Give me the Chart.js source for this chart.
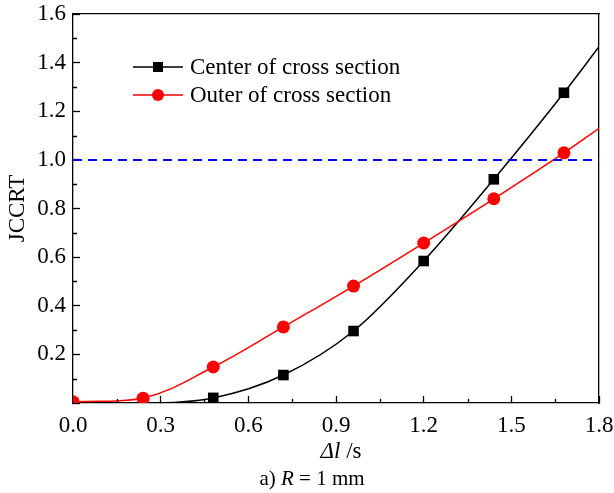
<!DOCTYPE html>
<html>
<head>
<meta charset="utf-8">
<script src="https://cdn.jsdelivr.net/npm/chart.js@4/dist/chart.umd.min.js"></script>
<style>
  html, body { margin: 0; padding: 0; background: #fff; }
  #wrap { width: 614px; height: 493px; position: relative; }
</style>
</head>
<body>
<div id="wrap"><canvas id="myChart" width="614" height="493"></canvas></div>
<script>
// data
var xValues = [0, 0.24, 0.48, 0.72, 0.96, 1.2, 1.44, 1.68, 1.8];
var centerValues = [0, 0, 0.021, 0.115, 0.296, 0.584, 0.92, 1.276, 1.465];
var outerValues = [0.005, 0.02, 0.148, 0.313, 0.481, 0.658, 0.84, 1.029, 1.13];
var markerShown = [true, true, true, true, true, true, true, true, false];
var limitX = [0, 1.8];
var limitY = [1.0, 1.0];
var xTicks = [0, 0.3, 0.6, 0.9, 1.2, 1.5, 1.8];
var yTicks = [0, 0.2, 0.4, 0.6, 0.8, 1.0, 1.2, 1.4, 1.6];
var legendLabels = ["Center of cross section", "Outer of cross section"];

var FONT = "'Liberation Serif', 'Times New Roman', serif";
var FS = 23;

function pts(xs, ys) {
    return xs.map(function (x, i) { return { x: x, y: ys[i] }; });
}
function radii(r) {
    return markerShown.map(function (s) { return s ? r : 0; });
}

// minor ticks, legend and the titles drawn on the canvas
var extras = {
    id: "extras",
    afterDraw: function (chart) {
        var ctx = chart.ctx, xs = chart.scales.x, ys = chart.scales.y, a = chart.chartArea;
        ctx.save();
        ctx.strokeStyle = "#000";
        ctx.lineWidth = 1.3;
        ctx.beginPath();
        for (var i = 0; i < xTicks.length - 1; i++) {
            var px = Math.round(xs.getPixelForValue((xTicks[i] + xTicks[i + 1]) / 2)) + 0.5;
            ctx.moveTo(px, a.bottom);
            ctx.lineTo(px, a.bottom - 4);
        }
        for (var j = 0; j < yTicks.length - 1; j++) {
            var py = Math.round(ys.getPixelForValue((yTicks[j] + yTicks[j + 1]) / 2)) + 0.5;
            ctx.moveTo(a.left, py);
            ctx.lineTo(a.left + 4, py);
        }
        ctx.stroke();

        // legend
        var rows = [
            { y: 67, color: "#000", label: legendLabels[0], square: true },
            { y: 95, color: "#ff0000", label: legendLabels[1], square: false }
        ];
        rows.forEach(function (r) {
            ctx.strokeStyle = r.color;
            ctx.fillStyle = r.color;
            ctx.lineWidth = 1.5;
            ctx.beginPath();
            ctx.moveTo(133, r.y);
            ctx.lineTo(183, r.y);
            ctx.stroke();
            if (r.square) {
                ctx.fillRect(158 - 5, r.y - 5, 10, 10);
            } else {
                ctx.beginPath();
                ctx.arc(158, r.y, 6, 0, Math.PI * 2);
                ctx.fill();
            }
            ctx.fillStyle = "#000";
            ctx.font = FS + "px " + FONT;
            ctx.textAlign = "left";
            ctx.textBaseline = "middle";
            ctx.fillText(r.label, 190, r.y + 1);
        });

        // y title
        ctx.fillStyle = "#000";
        ctx.font = FS + "px " + FONT;
        ctx.save();
        ctx.translate(18, (a.top + a.bottom) / 2);
        ctx.rotate(-Math.PI / 2);
        ctx.textAlign = "center";
        ctx.textBaseline = "middle";
        ctx.fillText("JCCRT", 0, 0);
        ctx.restore();

        // mixed italic / upright text centred on cx
        function mixed(parts, cx, cy, size) {
            var w = 0;
            parts.forEach(function (p) { ctx.font = p[1] + " " + size + "px " + FONT; w += ctx.measureText(p[0]).width; });
            var x = cx - w / 2;
            ctx.textAlign = "left";
            ctx.textBaseline = "middle";
            parts.forEach(function (p) {
                ctx.font = p[1] + " " + size + "px " + FONT;
                ctx.fillText(p[0], x, cy);
                x += ctx.measureText(p[0]).width;
            });
        }
        mixed([["\u0394l", "italic"], [" /s", "normal"]], 341, 452, FS);
        mixed([["a) ", "normal"], ["R", "italic"], [" = 1 mm", "normal"]], 312, 479, 21);
        ctx.restore();
    }
};

var ctx = document.getElementById("myChart").getContext("2d");
var myChart = new Chart(ctx, {
    type: "line",
    data: {
        datasets: [
            {
                label: "limit",
                data: pts(limitX, limitY),
                borderColor: "#0000ff",
                borderWidth: 2,
                borderDash: [9, 6],
                pointRadius: 0,
                tension: 0
            },
            {
                label: legendLabels[1],
                data: pts(xValues, outerValues),
                borderColor: "#ff0000",
                backgroundColor: "#ff0000",
                borderWidth: 1.5,
                pointStyle: "circle",
                pointRadius: radii(6.5),
                pointBorderWidth: 0,
                tension: 0.4
            },
            {
                label: legendLabels[0],
                data: pts(xValues, centerValues),
                borderColor: "#000",
                backgroundColor: "#000",
                borderWidth: 1.5,
                pointStyle: "rect",
                pointRadius: radii(7.5),
                pointBorderWidth: 0,
                cubicInterpolationMode: "monotone"
            }
        ]
    },
    options: {
        responsive: false,
        animation: false,
        events: [],
        layout: { padding: { left: 0, top: 14, right: 15, bottom: 0 } },
        plugins: { legend: { display: false }, tooltip: { enabled: false } },
        scales: {
            x: {
                type: "linear",
                min: 0,
                max: 1.8,
                afterBuildTicks: function (s) { s.ticks = xTicks.map(function (v) { return { value: v }; }); },
                afterFit: function (s) { s.height = 90; s.paddingLeft = 0; s.paddingRight = 0; },
                grid: { drawOnChartArea: false, tickLength: -7, tickColor: "#000", tickWidth: 1.3 },
                border: { color: "#000", width: 1.3 },
                ticks: {
                    color: "#000",
                    padding: 16,
                    maxRotation: 0,
                    font: { family: FONT, size: FS },
                    callback: function (v) { return v.toFixed(1); }
                }
            },
            x2: {
                type: "linear",
                position: "top",
                min: 0,
                max: 1.8,
                afterFit: function (s) { s.height = 0; s.paddingLeft = 0; s.paddingRight = 0; },
                grid: { display: false },
                border: { color: "#000", width: 1.3 },
                ticks: { display: false }
            },
            y: {
                type: "linear",
                min: 0,
                max: 1.6,
                afterBuildTicks: function (s) { s.ticks = yTicks.map(function (v) { return { value: v }; }); },
                afterFit: function (s) { s.width = 73; s.paddingTop = 0; s.paddingBottom = 0; },
                grid: { drawOnChartArea: false, tickLength: -7, tickColor: "#000", tickWidth: 1.3 },
                border: { color: "#000", width: 1.3 },
                ticks: {
                    color: "#000",
                    padding: 14,
                    font: { family: FONT, size: FS },
                    callback: function (v) { return v === 0 ? "" : v.toFixed(1); }
                }
            },
            y2: {
                type: "linear",
                position: "right",
                min: 0,
                max: 1.6,
                afterFit: function (s) { s.width = 0; s.paddingTop = 0; s.paddingBottom = 0; },
                grid: { display: false },
                border: { color: "#000", width: 1.3 },
                ticks: { display: false }
            }
        }
    },
    plugins: [extras]
});
</script>
</body>
</html>
